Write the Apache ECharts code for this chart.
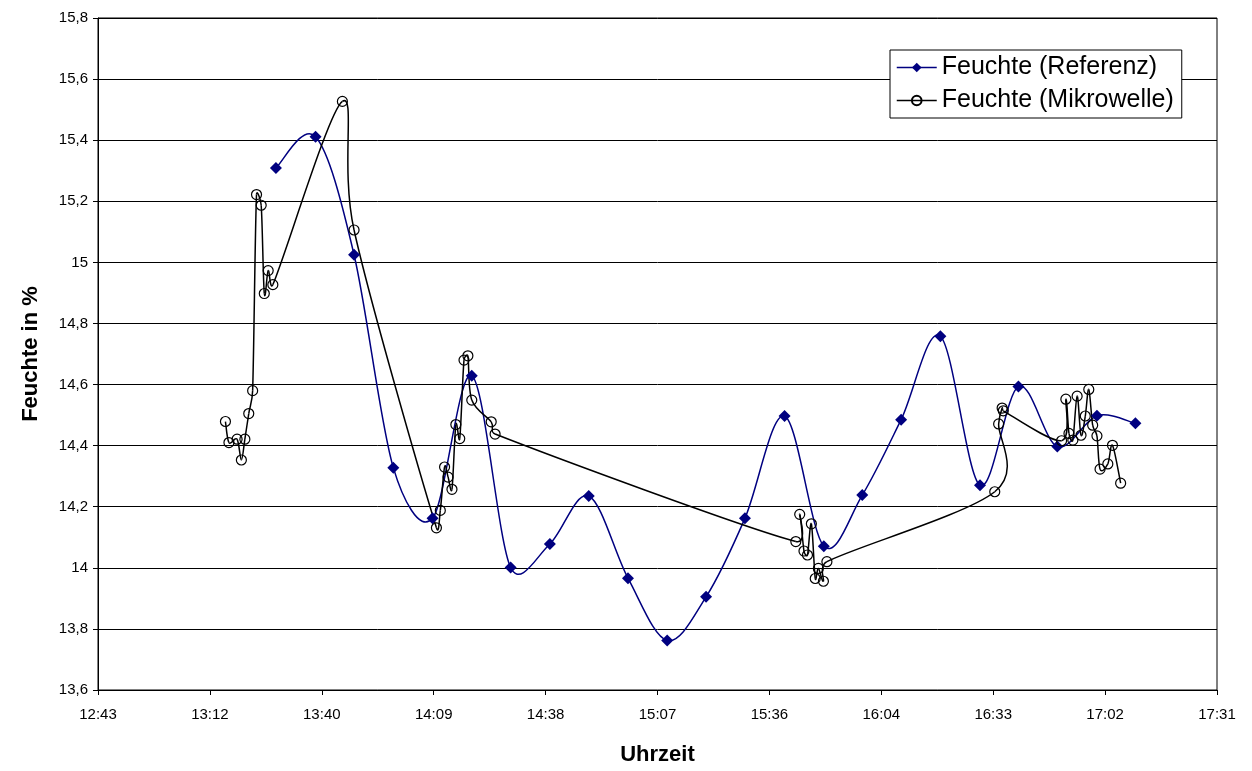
<!DOCTYPE html>
<html>
<head>
<meta charset="utf-8">
<script src="https://cdn.jsdelivr.net/npm/echarts@6/dist/echarts.min.js"></script>
<style>
html,body{margin:0;padding:0;background:#fff;}
#chart{width:1252px;height:771px;}
</style>
</head>
<body>
<div id="chart"></div>
<script>
// Referenz series (time, moisture %)
const refTimes = ["13:29:00","13:39:12","13:49:06","13:59:12","14:09:18","14:19:24","14:29:24","14:39:30","14:49:30","14:59:36","15:09:42","15:19:42","15:29:42","15:39:54","15:50:00","15:59:54","16:09:54","16:20:00","16:30:12","16:40:06","16:50:06","17:00:18","17:10:12"];
const refValues = [15.309,15.411,15.025,14.328,14.162,14.629,14.001,14.078,14.235,13.966,13.762,13.905,14.162,14.497,14.071,14.238,14.485,14.758,14.270,14.594,14.397,14.498,14.473];

// Mikrowelle series (time, moisture %)
const mwTimes = ["13:16:00","13:16:54","13:19:00","13:20:06","13:21:00","13:22:00","13:23:00","13:24:00","13:25:12","13:26:00","13:27:00","13:28:12",
  "13:46:06","13:49:06",
  "14:10:18","14:11:18","14:12:24","14:13:18","14:14:18","14:15:18","14:16:18","14:17:24","14:18:24","14:19:24","14:24:24","14:25:24",
  "15:42:48","15:43:48","15:44:54","15:45:48","15:46:48","15:47:48","15:48:36","15:49:54","15:50:48",
  "16:34:00","16:35:00","16:35:54","16:36:12",
  "16:51:12","16:52:18","16:53:06","16:54:06","16:55:12","16:56:12","16:57:18","16:58:12","16:59:12","17:00:18","17:01:06","17:03:06","17:04:18","17:06:24"];
const mwValues = [14.479,14.410,14.421,14.353,14.421,14.505,14.580,15.222,15.187,14.898,14.973,14.927,
  15.527,15.106,
  14.131,14.188,14.330,14.297,14.257,14.469,14.423,14.680,14.694,14.549,14.478,14.438,
  14.086,14.175,14.055,14.042,14.144,13.965,13.998,13.956,14.020,
  14.249,14.471,14.523,14.514,
  14.416,14.552,14.440,14.418,14.562,14.434,14.497,14.584,14.467,14.432,14.323,14.340,14.401,14.277];

// Axis settings (Excel-style day fractions: 0.53 .. 0.73 day, step 0.02 day)
const axisStartMin = 0.53 * 1440;   // 12:43:12
const axisEndMin = 0.73 * 1440;     // 17:31:12
const axisStepMin = 0.02 * 1440;    // 28.8 min
const yMin = 13.6, yMax = 15.8, yStep = 0.2;

const FONT = "'Liberation Sans', Arial, sans-serif";
const REF_NAME = "Feuchte (Referenz)";
const MW_NAME = "Feuchte (Mikrowelle)";

function toMin(s){
  const p = s.split(":").map(Number);
  return p[0]*60 + p[1] + (p[2]||0)/60;
}
function rel(s){ return toMin(s) - axisStartMin; }
function fmtTime(v){
  const t = v + axisStartMin + 1e-6;
  const h = Math.floor(t/60);
  const m = Math.floor(t - h*60);
  return h + ":" + (m<10?"0":"") + m;
}
function fmtY(v){
  const r = Math.round(v*10)/10;
  return String(r).replace(".", ",");
}

const refData = refTimes.map((t,i)=>[rel(t), refValues[i]]);
const mwData = mwTimes.map((t,i)=>[rel(t), mwValues[i]]);

// Spreadsheet-style smoothed curve (Bezier segments between neighbouring points)
function smoothRenderer(color, width){
  return function(params, api){
    const i = params.dataIndexInside;
    const n = params.dataInsideLength;
    if (i >= n - 1) return {type: "group", children: []};
    const pt = k => api.coord([api.value(0, k), api.value(1, k)]);
    const p1 = pt(i), p2 = pt(i+1);
    const p0 = i > 0 ? pt(i-1) : p1;
    const p3 = i + 2 < n ? pt(i+2) : p2;
    const d = (a,b) => Math.hypot(a[0]-b[0], a[1]-b[1]);
    const d02 = d(p0,p2), d13 = d(p1,p3), d12 = d(p1,p2);
    const f = 1/6;
    let f1 = f, f2 = f;
    if (d02/6 >= d12/2) f1 = d02 > 0 ? d12/(2*d02) : 0;
    if (d13/6 >= d12/2) f2 = d13 > 0 ? d12/(2*d13) : 0;
    return {
      type: "bezierCurve",
      shape: {
        x1: p1[0], y1: p1[1], x2: p2[0], y2: p2[1],
        cpx1: p1[0] + (p2[0]-p0[0])*f1, cpy1: p1[1] + (p2[1]-p0[1])*f1,
        cpx2: p2[0] - (p3[0]-p1[0])*f2, cpy2: p2[1] - (p3[1]-p1[1])*f2
      },
      style: {stroke: color, lineWidth: width, fill: null},
      silent: true
    };
  };
}

const chart = echarts.init(document.getElementById("chart"), null, {renderer:"canvas"});
chart.setOption({
  backgroundColor: "#fff",
  animation: false,
  textStyle: {fontFamily: FONT},
  grid: {left: 98, right: 35, top: 18, bottom: 77, show: true, borderColor: "#000", borderWidth: 1, backgroundColor: "transparent"},
  legend: {
    left: 890, top: 50, orient: "vertical",
    backgroundColor: "#fff", borderColor: "#000", borderWidth: 1,
    padding: [5, 8, 5, 6], itemGap: 8, itemWidth: 40, itemHeight: 12,
    textStyle: {fontFamily: FONT, fontSize: 25, color: "#000"},
    data: [
      {name: REF_NAME, lineStyle: {color: "#000080", width: 1.5, opacity: 1}},
      {name: MW_NAME, lineStyle: {color: "#000", width: 1.5, opacity: 1}}
    ]
  },
  xAxis: {
    type: "value", min: 0, max: axisEndMin - axisStartMin, interval: axisStepMin,
    name: "Uhrzeit", nameLocation: "middle", nameGap: 54,
    nameTextStyle: {fontFamily: FONT, fontSize: 22, fontWeight: "bold", color: "#000"},
    axisLine: {show: true, lineStyle: {color: "#000", width: 1}},
    axisTick: {show: true, length: 5, inside: false, lineStyle: {color: "#000"}},
    axisLabel: {formatter: fmtTime, fontFamily: FONT, fontSize: 15, color: "#000", margin: 17, showMinLabel: true, showMaxLabel: true},
    splitLine: {show: false}
  },
  yAxis: {
    type: "value", min: yMin, max: yMax, interval: yStep,
    name: "Feuchte in %", nameLocation: "middle", nameGap: 56, nameRotate: 90,
    nameTextStyle: {fontFamily: FONT, fontSize: 22, fontWeight: "bold", color: "#000"},
    axisLine: {show: true, lineStyle: {color: "#000", width: 1}},
    axisTick: {show: true, length: 5, inside: false, lineStyle: {color: "#000"}},
    axisLabel: {formatter: fmtY, fontFamily: FONT, fontSize: 15, color: "#000", margin: 10},
    splitLine: {show: true, lineStyle: {color: "#000", width: 1}}
  },
  series: [
    {
      name: "refCurve", type: "custom", data: refData,
      encode: {x: 0, y: 1}, renderItem: smoothRenderer("#000080", 1.5), z: 2, clip: true
    },
    {
      name: "mwCurve", type: "custom", data: mwData,
      encode: {x: 0, y: 1}, renderItem: smoothRenderer("#000", 1.5), z: 3, clip: true
    },
    {
      name: REF_NAME, type: "line", data: refData,
      symbol: "diamond", symbolSize: 12,
      itemStyle: {color: "#000080"},
      lineStyle: {color: "#000080", width: 1.5, opacity: 0},
      z: 4
    },
    {
      name: MW_NAME, type: "line", data: mwData,
      symbol: "circle", symbolSize: 10,
      itemStyle: {color: "rgba(255,255,255,0)", borderColor: "#000", borderWidth: 1.2},
      lineStyle: {color: "#000", width: 1.5, opacity: 0},
      z: 5
    }
  ]
});
</script>
</body>
</html>
